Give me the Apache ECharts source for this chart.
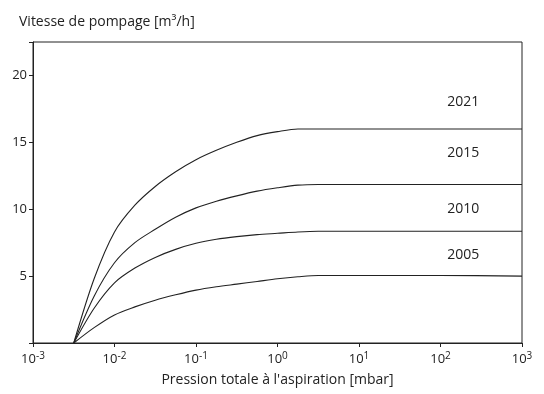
<!DOCTYPE html>
<html><head><meta charset="utf-8">
<script src="https://cdn.jsdelivr.net/npm/echarts@6/dist/echarts.min.js"></script>
<style>html,body{margin:0;padding:0;background:#fff}#c{width:544px;height:394px}</style>
</head><body><div id="c"></div>
<script>
// Pressure (mbar) sample points as powers of ten, shared by all series
var pressureExp = [-2.5, -2.25, -2, -1.75, -1.5, -1.25, -1, -0.75, -0.5, -0.25, 0, 0.25, 0.5, 1, 2, 3];
var years = ['2021', '2015', '2010', '2005'];
var s2021 = [0, 4.8, 8.3, 10.3, 11.7, 12.8, 13.7, 14.4, 15.0, 15.5, 15.8, 16.0, 16.0, 16.0, 16.0, 16.0];
var s2015 = [0, 3.5, 6.0, 7.5, 8.5, 9.4, 10.1, 10.6, 11.0, 11.35, 11.6, 11.8, 11.85, 11.85, 11.85, 11.85];
var s2010 = [0, 2.6, 4.5, 5.6, 6.4, 7.0, 7.45, 7.75, 7.95, 8.1, 8.2, 8.3, 8.35, 8.35, 8.35, 8.35];
var s2005 = [0, 1.15, 2.1, 2.7, 3.2, 3.6, 3.95, 4.2, 4.4, 4.6, 4.8, 4.95, 5.05, 5.05, 5.05, 5.0];
var xTicks = [-3, -2, -1, 0, 1, 2, 3];
var yTicks = [5, 10, 15, 20];

var seriesValues = [s2021, s2015, s2010, s2005];
var labelOffsets = [[0, -27], [0, -31], [0, -22], [0, -20]];
var FONT = '"Open Sans", "Noto Sans", sans-serif';

var chart = echarts.init(document.getElementById('c'));
chart.setOption({
  backgroundColor: '#fff',
  animation: false,
  grid: {left: 33, right: 22, top: 42, bottom: 51, show: true, borderColor: '#222', borderWidth: 1, backgroundColor: 'transparent'},
  title: {text: 'Vitesse de pompage [m³/h]', left: 14, top: 10,
    textStyle: {fontFamily: FONT, fontSize: 14, fontWeight: 'normal', color: '#222'}},
  xAxis: {
    type: 'log', logBase: 10, min: 0.001, max: 1000,
    name: "Pression totale à l'aspiration [mbar]", nameLocation: 'middle', nameGap: 30,
    nameTextStyle: {fontFamily: FONT, fontSize: 14, color: '#222'},
    axisLine: {lineStyle: {color: '#222', width: 1}},
    axisTick: {show: true, length: 4, lineStyle: {color: '#222'}},
    splitLine: {show: false},
    minorTick: {show: false},
    axisLabel: {
      margin: 8, color: '#222', fontFamily: FONT, fontSize: 13,
      formatter: function (v) {
        var e = Math.round(Math.log10(v));
        if (xTicks.indexOf(e) < 0) return '';
        return '10{s|' + e + '}';
      },
      rich: {s: {fontSize: 10, verticalAlign: 'top', padding: [0, 0, 7, 0], fontFamily: FONT, color: '#222'}}
    }
  },
  yAxis: {
    type: 'value', min: 0, max: 22.5, interval: 5,
    axisLine: {show: true, lineStyle: {color: '#222', width: 1}},
    axisTick: {show: true, length: 4, lineStyle: {color: '#222'}},
    splitLine: {show: false},
    axisLabel: {margin: 6, color: '#222', fontFamily: FONT, fontSize: 13,
      formatter: function (v) { return yTicks.indexOf(v) >= 0 ? String(v) : ''; }}
  },
  series: seriesValues.map(function (vals, i) {
    var sat = vals[vals.length - 2];
    return {
      type: 'line', name: years[i], smooth: 0.3, symbol: 'none',
      lineStyle: {color: '#222', width: 1.1},
      data: pressureExp.map(function (e, k) { return [Math.pow(10, e), vals[k]]; }),
      markPoint: {
        symbol: 'circle', symbolSize: 0,
        label: {show: true, formatter: years[i], offset: labelOffsets[i], color: '#222',
          fontFamily: FONT, fontSize: 14},
        data: [{coord: [190, sat]}]
      }
    };
  })
});
</script></body></html>
